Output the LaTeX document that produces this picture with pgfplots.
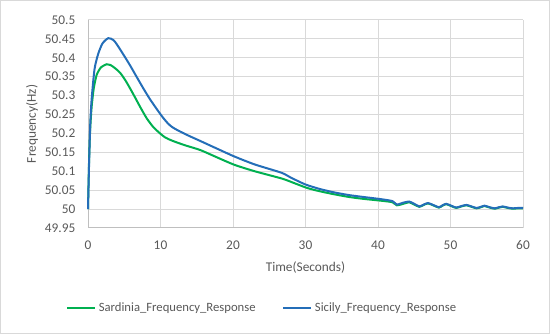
\documentclass[border=0pt]{standalone}
\usepackage{pgfplots}
\pgfplotsset{compat=1.18}
\usepackage{fontspec}
\setmainfont{Carlito}
\definecolor{txtgray}{RGB}{89,89,89}
\definecolor{gridgray}{RGB}{217,217,217}
\definecolor{axgray}{RGB}{191,191,191}
\definecolor{sicily}{RGB}{36,110,184}
\definecolor{sardinia}{RGB}{0,176,80}
\begin{document}
\begin{tikzpicture}
\useasboundingbox (0,0) rectangle (412.5pt,250.5pt);
\draw[gridgray, line width=0.75pt] (0.6pt,0.6pt) rectangle (411.9pt,249.9pt);
\begin{axis}[
  at={(66pt,79.5pt)}, anchor=south west,
  scale only axis, width=326.25pt, height=156pt,
  xmin=0, xmax=60, ymin=49.95, ymax=50.5,
  xtick={0,10,20,30,40,50,60},
  ytick={49.95,50,50.05,50.1,50.15,50.2,50.25,50.3,50.35,50.4,50.45,50.5},
  yticklabels={49.95,50,50.05,50.1,50.15,50.2,50.25,50.3,50.35,50.4,50.45,50.5},
  xticklabels={0,10,20,30,40,50,60},
  major tick length=0pt,
  grid=major,
  grid style={gridgray, line width=0.75pt},
  axis x line*=bottom, axis y line*=left,
  axis line style={axgray, line width=0.75pt},
  tick label style={font=\fontsize{10}{11}\selectfont, text=txtgray},
  yticklabel style={xshift=-6pt},
  xticklabel style={yshift=-6pt},
  xlabel={Time(Seconds)},
  ylabel={Frequency(Hz)},
  every axis x label/.style={at={(axis description cs:0.5,-0.19)}, anchor=center,
    font=\fontsize{10}{11}\selectfont, text=txtgray},
  every axis y label/.style={at={(axis description cs:-0.1287,0.5)}, anchor=center, rotate=90,
    font=\fontsize{10}{11}\selectfont, text=txtgray},
  legend style={at={(axis description cs:0.401,-0.385)}, anchor=center, draw=none,
    font=\fontsize{9.5}{10.5}\selectfont, text=txtgray, legend columns=2,
    /tikz/every even column/.append style={column sep=18pt}},
  legend image code/.code={\draw[#1, line width=1.5pt] (0pt,0pt) -- (21pt,0pt);},
  clip=false,
]
\addplot[sardinia, line width=1.5pt, smooth, tension=0.4] coordinates {
(0,50.0) (0.15,50.13) (0.3,50.21) (0.5,50.27) (0.8,50.32) (1.2,50.355) (1.8,50.375)
(2.6,50.383) (3.1,50.381) (3.7,50.373) (4.45,50.36) (5.3,50.336) (6.3,50.302) (7.2,50.27)
(8.1,50.24) (9.0,50.217) (10,50.199) (10.6,50.19) (11.1,50.185) (12,50.178) (13.5,50.168)
(15.5,50.156) (18,50.135) (20.2,50.117) (23,50.1) (26.7,50.081) (28,50.072) (30.2,50.056)
(32,50.047) (34,50.039) (36,50.032) (38,50.027) (40.5,50.022) (42,50.018)
(42.6,50.010) (43.5,50.014) (44.3,50.018) (45.0,50.012) (45.7,50.006) (46.3,50.011)
(46.9,50.015) (47.6,50.010) (48.4,50.004) (48.9,50.009) (49.4,50.013) (50.1,50.008)
(50.8,50.003) (51.5,50.007) (52.2,50.010) (52.9,50.006) (53.6,50.002) (54.2,50.005)
(54.7,50.008) (55.4,50.004) (56.1,50.001) (56.7,50.004) (57.2,50.006) (57.9,50.003)
(58.6,50.001) (59.3,50.002) (60,50.002)
};
\addlegendentry{Sardinia\_Frequency\_Response}
\addplot[sicily, line width=1.5pt, smooth, tension=0.4] coordinates {
(0,50.0) (0.15,50.12) (0.3,50.22) (0.5,50.29) (0.9,50.37) (1.4,50.41) (2.0,50.438)
(2.8,50.452) (3.5,50.447) (4.0,50.435) (5.0,50.405) (5.8,50.38) (7.0,50.34) (7.7,50.317)
(8.5,50.292) (9.5,50.264) (10.3,50.243) (11.0,50.227) (11.6,50.217) (12.5,50.207)
(14,50.193) (15.5,50.18) (18,50.158) (20.2,50.139) (23,50.118) (26.7,50.096) (28,50.083)
(30,50.065) (32,50.053) (34,50.044) (36,50.037) (38,50.032) (40.5,50.026) (42,50.021)
(42.6,50.012) (43.5,50.017) (44.3,50.020) (45.0,50.014) (45.7,50.007) (46.3,50.012)
(46.9,50.016) (47.6,50.011) (48.4,50.005) (48.9,50.010) (49.4,50.014) (50.1,50.009)
(50.8,50.004) (51.5,50.008) (52.2,50.011) (52.9,50.007) (53.6,50.003) (54.2,50.006)
(54.7,50.009) (55.4,50.005) (56.1,50.002) (56.7,50.005) (57.2,50.007) (57.9,50.004)
(58.6,50.002) (59.3,50.003) (60,50.003)
};
\addlegendentry{Sicily\_Frequency\_Response}
\end{axis}
\end{tikzpicture}
\end{document}
